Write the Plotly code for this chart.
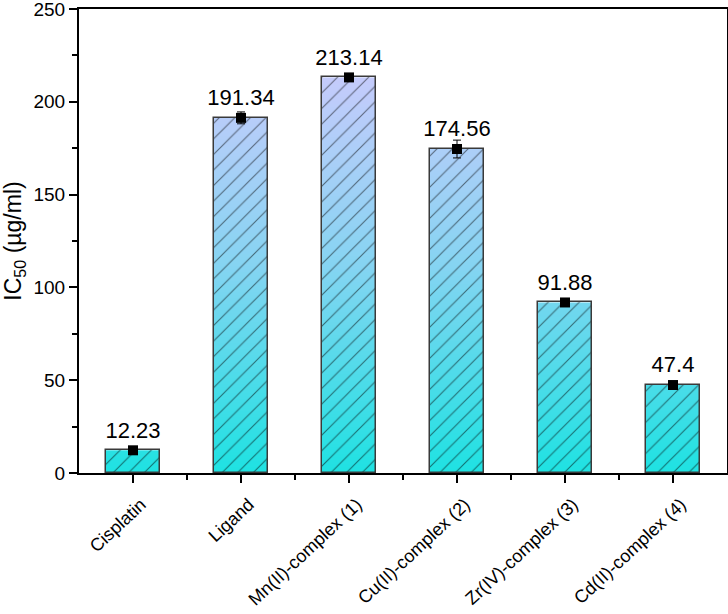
import numpy as np
import plotly.graph_objects as go

categories = ["Cisplatin", "Ligand", "Mn(II)-complex (1)", "Cu(II)-complex (2)",
              "Zr(IV)-complex (3)", "Cd(II)-complex (4)"]
values = [12.23, 191.34, 213.14, 174.56, 91.88, 47.4]
errors = [1.2, 3.2, 1.5, 4.8, 1.0, 1.0]
labels = ["12.23", "191.34", "213.14", "174.56", "91.88", "47.4"]

font = "Liberation Sans, Arial, sans-serif"
xpos = list(range(len(categories)))
bw = 0.5
colorscale = [[0, "#1ee2e2"], [0.45, "#86d4f2"], [1, "#dcc8ff"]]

fig = go.Figure()
N = 120
for i, v in zip(xpos, values):
    yedges = np.linspace(0, v, N + 1)
    mids = (yedges[:-1] + yedges[1:]) / 2
    fig.add_trace(go.Heatmap(
        x=[i - bw / 2, i + bw / 2], y=yedges, z=mids.reshape(-1, 1),
        colorscale=colorscale, zmin=0, zmax=250, showscale=False,
        hoverinfo="skip"))

fig.add_trace(go.Bar(
    x=xpos, y=values, width=bw,
    marker=dict(color="rgba(0,0,0,0)",
                line=dict(color="#3a3a3a", width=1.5),
                pattern=dict(shape="/", fgcolor="#000000", size=11,
                             solidity=0.1, fillmode="overlay")),
    hoverinfo="skip", showlegend=False))

fig.add_trace(go.Scatter(
    x=xpos, y=values, mode="markers+text", text=labels,
    textposition="top center",
    textfont=dict(family=font, size=22, color="black"),
    marker=dict(symbol="square", size=10, color="black"),
    error_y=dict(type="data", array=errors, color="black", thickness=1, width=4),
    showlegend=False))

fig.update_layout(
    width=728, height=614,
    margin=dict(l=79, r=1, t=9, b=141),
    paper_bgcolor="white", plot_bgcolor="white",
    font=dict(family=font, size=20, color="black"),
    showlegend=False, bargap=0,
)
fig.update_xaxes(
    range=[-0.5, 5.5], tickmode="array", tickvals=xpos, ticktext=categories,
    tickangle=-43, ticks="outside", ticklen=8, tickwidth=2, tickcolor="black",
    showline=True, linewidth=2, linecolor="black", mirror=True,
    showgrid=False, zeroline=False, ticklabeloverflow="allow", automargin=False,
    ticklabelshift=8, ticklabelstandoff=4,
    tickfont=dict(family=font, size=18),
    minor=dict(tickmode="array", tickvals=[0.5, 1.5, 2.5, 3.5, 4.5],
               ticks="outside", ticklen=5, tickwidth=2, tickcolor="black"),
)
fig.update_yaxes(
    range=[0, 250], tickmode="array", tickvals=[0, 50, 100, 150, 200, 250],
    ticks="outside", ticklen=8, tickwidth=2, tickcolor="black",
    showline=True, linewidth=2, linecolor="black", mirror=True,
    showgrid=False, zeroline=False, ticklabeloverflow="allow", automargin=False,
    tickfont=dict(family=font, size=19),
    title=dict(text="IC<sub>50</sub> (µg/ml)", font=dict(family=font, size=23),
               standoff=6),
    minor=dict(tickmode="array", tickvals=[25, 75, 125, 175, 225],
               ticks="outside", ticklen=5, tickwidth=2, tickcolor="black"),
)

fig.write_html("out.html")
